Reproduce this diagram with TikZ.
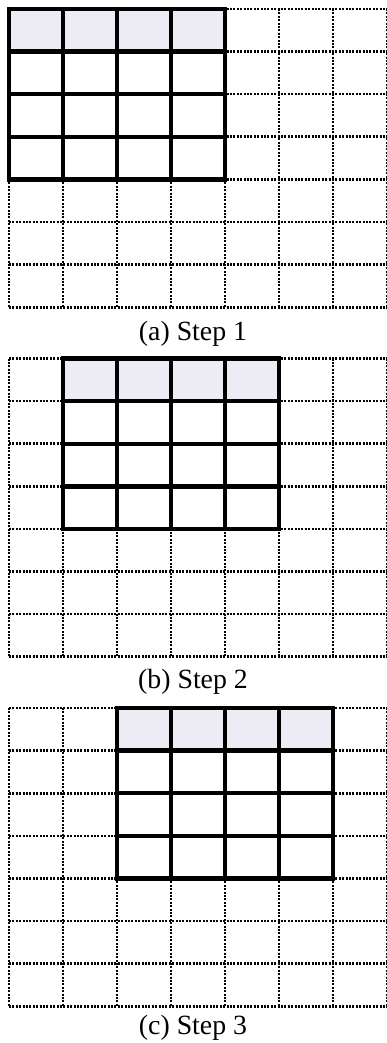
\documentclass[tikz,border=0pt]{standalone}
\usepackage{fontspec}
\setmainfont{Liberation Serif}
\usepackage{tikz}
\definecolor{headlilac}{RGB}{237,235,243}
\tikzset{
    gridline/.style={line width=1.3pt, dash pattern=on 1pt off 0.7pt},
    windowline/.style={line width=2.2pt, line cap=rect},
    windowhead/.style={fill=headlilac},
    steplabel/.style={font=\fontsize{13.9}{16}\selectfont}
}

\begin{document}
\begin{tikzpicture}[x=0.5pt, y=-0.5pt]
        \useasboundingbox (0,0) rectangle (386,1043);
        \foreach \s/\ytop/\ycap/\lbl/\n in {
            0/9/334/a/1,
            1/358.5/682/b/2,
            2/708/1028/c/3} {
            % dotted 7x7 input grid
            \foreach \i in {0,...,7} {
                \draw[gridline] (9+\i*54,\ytop) -- (9+\i*54,\ytop+7*42.6);
                \draw[gridline] (9,\ytop+\i*42.6) -- (387,\ytop+\i*42.6);
            }
            % sliding 4x4 window, top row shaded
            \fill[windowhead] (9+\s*54,\ytop) rectangle (225+\s*54,\ytop+42.6);
            \foreach \j in {0,...,4} {
                \draw[windowline] (9+\s*54+\j*54,\ytop) -- (9+\s*54+\j*54,\ytop+4*42.6);
                \draw[windowline] (9+\s*54,\ytop+\j*42.6) -- (225+\s*54,\ytop+\j*42.6);
            }
            % caption
            \node[steplabel] (step\lbl) at (193,\ycap) {(\lbl) Step \n};
        }
    \end{tikzpicture}
\end{document}
